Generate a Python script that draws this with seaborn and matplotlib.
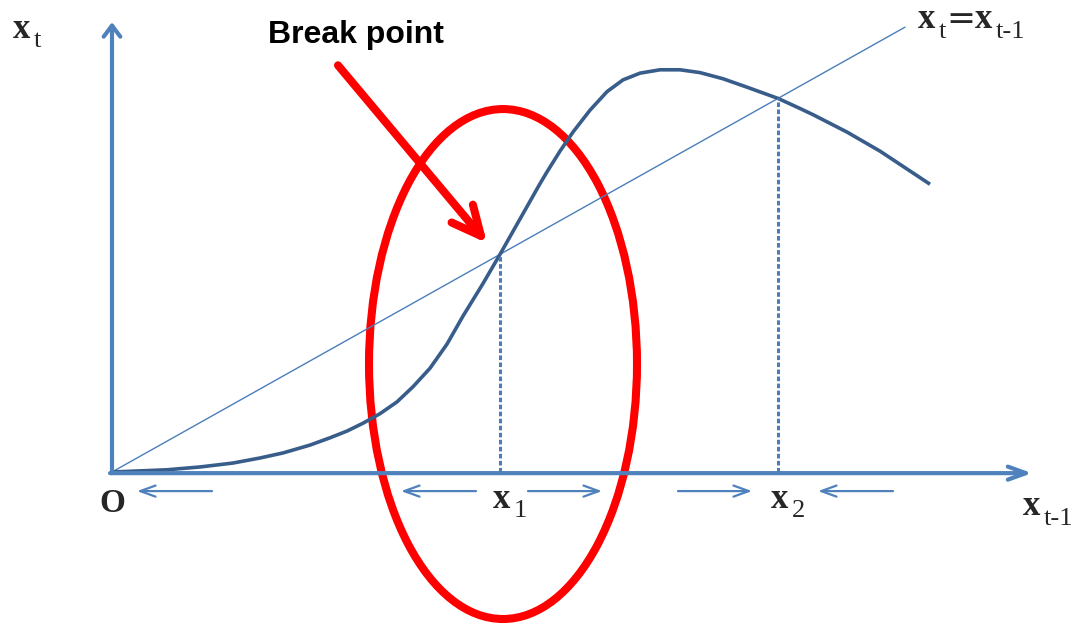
import matplotlib
matplotlib.use("Agg")
import matplotlib.pyplot as plt
from matplotlib.patches import Ellipse
import seaborn as sns

# ===== DONNEES (unites du schema : la droite x_t = x_{t-1} est y = x) =====
curve_x = [0.00, 0.28, 0.55, 0.88, 1.21, 1.48, 1.71, 1.98, 2.18, 2.35, 2.51, 2.68,
           2.85, 3.01, 3.18, 3.35, 3.51, 3.71, 3.88, 4.01, 4.28, 4.35, 4.48, 4.61,
           4.78, 4.95, 5.11, 5.28, 5.48, 5.68, 5.88, 6.11, 6.35, 6.66, 6.88, 7.01,
           7.35, 7.68, 8.18]
curve_y = [0.00, 0.02, 0.04, 0.09, 0.16, 0.25, 0.34, 0.48, 0.61, 0.73, 0.87, 1.04,
           1.25, 1.52, 1.85, 2.28, 2.78, 3.36, 3.88, 4.29, 5.14, 5.35, 5.72, 6.06,
           6.45, 6.78, 6.99, 7.11, 7.17, 7.17, 7.12, 7.01, 6.86, 6.66, 6.48, 6.37,
           6.06, 5.72, 5.13]

diag_x = [0.0, 7.93]
diag_y = [0.0, 7.93]

equilibria = [3.88, 6.66]          # x1 (point de rupture), x2
eq_labels = ["1", "2"]

# fleches de dynamique sous l'axe : (depart, arrivee)
flow_arrows = [(1.00, 0.25), (3.64, 2.89), (4.16, 4.90), (5.66, 6.40), (7.81, 7.06)]

AXIS_BLUE = "#4F81BD"
CURVE_BLUE = "#385D8A"
LINE_BLUE = "#4A7EBB"
RED = "#FF0000"
SERIF = "Liberation Serif"

sns.set_theme(style="white")

fig = plt.figure(figsize=(10.86, 6.25), dpi=100)
ax = fig.add_axes([0, 0, 1, 1])
ax.set_xlim(-1.12, 9.74)
ax.set_ylim(-2.727, 8.414)
ax.axis("off")

# ===== AXES =====
ax.annotate("", xy=(0, 8.02), xytext=(0, -0.02),
            arrowprops=dict(arrowstyle="->,head_length=0.8,head_width=0.6",
                            lw=3, color=AXIS_BLUE, shrinkA=0, shrinkB=0,
                            mutation_scale=10))
ax.annotate("", xy=(9.20, -0.02), xytext=(-0.02, -0.02),
            arrowprops=dict(arrowstyle="->,head_length=1.3,head_width=0.47",
                            lw=3, color=AXIS_BLUE, shrinkA=0, shrinkB=0,
                            mutation_scale=10))

# ===== COURBES =====
sns.lineplot(x=diag_x, y=diag_y, ax=ax, color=LINE_BLUE, linewidth=1.0)
sns.lineplot(x=curve_x, y=curve_y, ax=ax, color=CURVE_BLUE, linewidth=2.6,
             solid_joinstyle="round", solid_capstyle="butt")

# pointilles vers les equilibres
ax.vlines(equilibria, 0, equilibria, color=LINE_BLUE, lw=2.2,
          linestyles=[(0, (1.5, 0.8))])

# fleches de dynamique
for start, end in flow_arrows:
    ax.annotate("", xy=(end, -0.34), xytext=(start, -0.34),
                arrowprops=dict(arrowstyle="->,head_length=1.1,head_width=0.4",
                                lw=1.6, color=AXIS_BLUE, shrinkA=0, shrinkB=0,
                                mutation_scale=10))

# ===== ANNOTATIONS ROUGES =====
ax.add_patch(Ellipse((3.91, 1.925), 2.68, 9.09, fill=False, ec=RED, lw=5.8))
ax.annotate("", xy=(3.75, 4.08), xytext=(2.26, 7.25),
            arrowprops=dict(arrowstyle="->,head_length=2.1,head_width=1.0",
                            lw=5.8, color=RED, shrinkA=0, shrinkB=0,
                            mutation_scale=10, capstyle="round",
                            joinstyle="round"))
ax.text(1.56, 7.65, "Break point", fontsize=23, fontweight="bold",
        family="Liberation Sans", color="black", va="baseline")


# ===== LIBELLES AVEC INDICES =====
def sub_label(x, y, base, sub, size=25, sub_size=19):
    main = ax.text(x, y, base, fontsize=size, family=SERIF, fontweight="bold",
                   va="baseline")
    low = ax.annotate(sub, xy=(1, 0), xycoords=main, xytext=(2.5, -1),
                      textcoords="offset points", fontsize=sub_size,
                      family=SERIF, va="baseline")
    return main, low


sub_label(-0.99, 7.74, "x", "t")
sub_label(9.11, -0.77, "x", "t-1")
for xe, lab in zip(equilibria, eq_labels):
    sub_label(xe - 0.07, -0.64, "x", lab)
ax.text(0.0, -0.71, "O", fontsize=24, family=SERIF, fontweight="bold",
        ha="center", va="baseline")

main, low = sub_label(8.06, 7.91, "x", "t")
eq = ax.annotate("=", xy=(1, 0), xycoords=(low, main), xytext=(0, 0),
                 textcoords="offset points", fontsize=25, family="DejaVu Serif",
                 va="bottom")
main2 = ax.annotate("x", xy=(1, 0), xycoords=(eq, main), xytext=(0, 0),
                    textcoords="offset points", fontsize=25, family=SERIF,
                    fontweight="bold", va="bottom")
ax.annotate("t-1", xy=(1, 0), xycoords=main2, xytext=(2.5, -1),
            textcoords="offset points", fontsize=19, family=SERIF,
            va="baseline")

fig.savefig("out.png", dpi=100)
